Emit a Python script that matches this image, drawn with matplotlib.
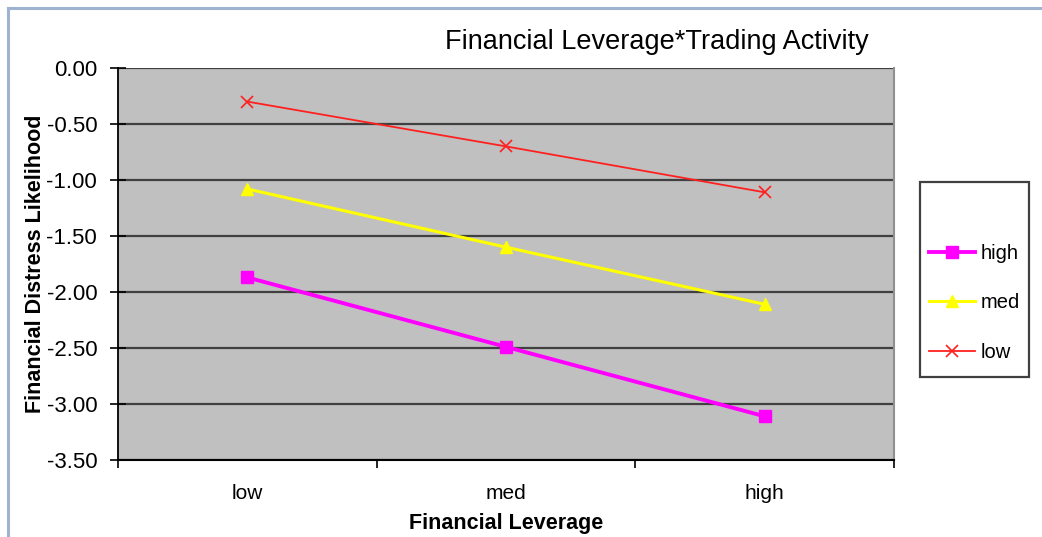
import matplotlib
matplotlib.use("Agg")
import matplotlib.pyplot as plt
from matplotlib.patches import Rectangle
from matplotlib.lines import Line2D

categories = ["low", "med", "high"]
series_names = ["high", "med", "low"]
high_vals = [-1.87, -2.49, -3.11]
med_vals = [-1.08, -1.60, -2.11]
low_vals = [-0.30, -0.70, -1.11]
yticks = [0.00, -0.50, -1.00, -1.50, -2.00, -2.50, -3.00, -3.50]

plt.rcParams['font.family'] = ['Liberation Sans', 'DejaVu Sans']

W, H = 1042, 537
fig = plt.figure(figsize=(W/100, H/100), dpi=100)

# outer chart border (light blue)
fig.add_artist(Line2D([8/W, 8/W], [0, 1 - 8/H], transform=fig.transFigure,
                      color='#9db3d0', lw=2.2))
fig.add_artist(Line2D([8/W, 1], [1 - 8/H, 1 - 8/H], transform=fig.transFigure,
                      color='#9db3d0', lw=2.2))

left, right, top, bottom = 118, 894, 68, 460
ax = fig.add_axes([left/W, 1 - bottom/H, (right-left)/W, (bottom-top)/H])
ax.set_facecolor('#c0c0c0')

x = list(range(len(categories)))
ax.set_xlim(-0.5, len(categories) - 0.5)
ax.set_ylim(-3.5, 0.0)

for yv in yticks:
    ax.axhline(yv, color='#404040', lw=1.6, zorder=1)

l1, = ax.plot(x, high_vals, color='#ff00ff', lw=2.8, marker='s', ms=8, label=series_names[0], zorder=3)
l2, = ax.plot(x, med_vals, color='#ffff00', lw=2.2, marker='^', ms=9, label=series_names[1], zorder=3)
l3, = ax.plot(x, low_vals, color='#ff2020', lw=1.3, marker='x', ms=8, mew=1.2, label=series_names[2], zorder=3)

ax.set_yticks(yticks)
ax.set_yticklabels([f"{v:.2f}" for v in yticks], fontsize=16)
ax.set_xticks([-0.5, 0.5, 1.5, 2.5])
ax.set_xticklabels([])
ax.set_xticks(x, minor=True)
ax.set_xticklabels(categories, minor=True, fontsize=15)
ax.tick_params(axis='x', which='minor', length=0, pad=17)
ax.tick_params(axis='x', which='major', length=6, direction='out', width=1.2)
ax.tick_params(axis='y', length=12, direction='inout', width=1.2, pad=9)

ax.spines['left'].set_color('black')
ax.spines['left'].set_linewidth(1.3)
ax.spines['bottom'].set_color('black')
ax.spines['bottom'].set_linewidth(1.5)
ax.spines['top'].set_visible(False)
ax.spines['right'].set_color('#909090')
ax.spines['right'].set_linewidth(1.5)

ax.set_xlabel("Financial Leverage", fontsize=15.5, fontweight='bold')
ax.set_ylabel("Financial Distress Likelihood", fontsize=15.5, fontweight='bold')
ax.yaxis.set_label_coords((46 - left) / (right - left), 0.5)
ax.xaxis.set_label_coords(0.5, -(513 - bottom) / (bottom - top))

fig.text(657/W, 1 - 42/H, "Financial Leverage*Trading Activity", fontsize=19.5,
         ha='center', va='center')

# legend frame
fig.add_artist(Rectangle((920/W, 1 - 377/H), (1029-920)/W, (377-182)/H,
                         transform=fig.transFigure, facecolor='white',
                         edgecolor='#404040', lw=1.6, zorder=-1))
leg = fig.legend(handles=[l1, l2, l3], labels=series_names,
                 loc='center left', bbox_to_anchor=(929/W, 1 - 303/H), bbox_transform=fig.transFigure,
                 frameon=False, fontsize=14.5, handlelength=2.3, handletextpad=0.25,
                 labelspacing=1.5, borderpad=0, borderaxespad=0)
leg.set_zorder(5)

fig.savefig("out.png", dpi=100, facecolor='white')
